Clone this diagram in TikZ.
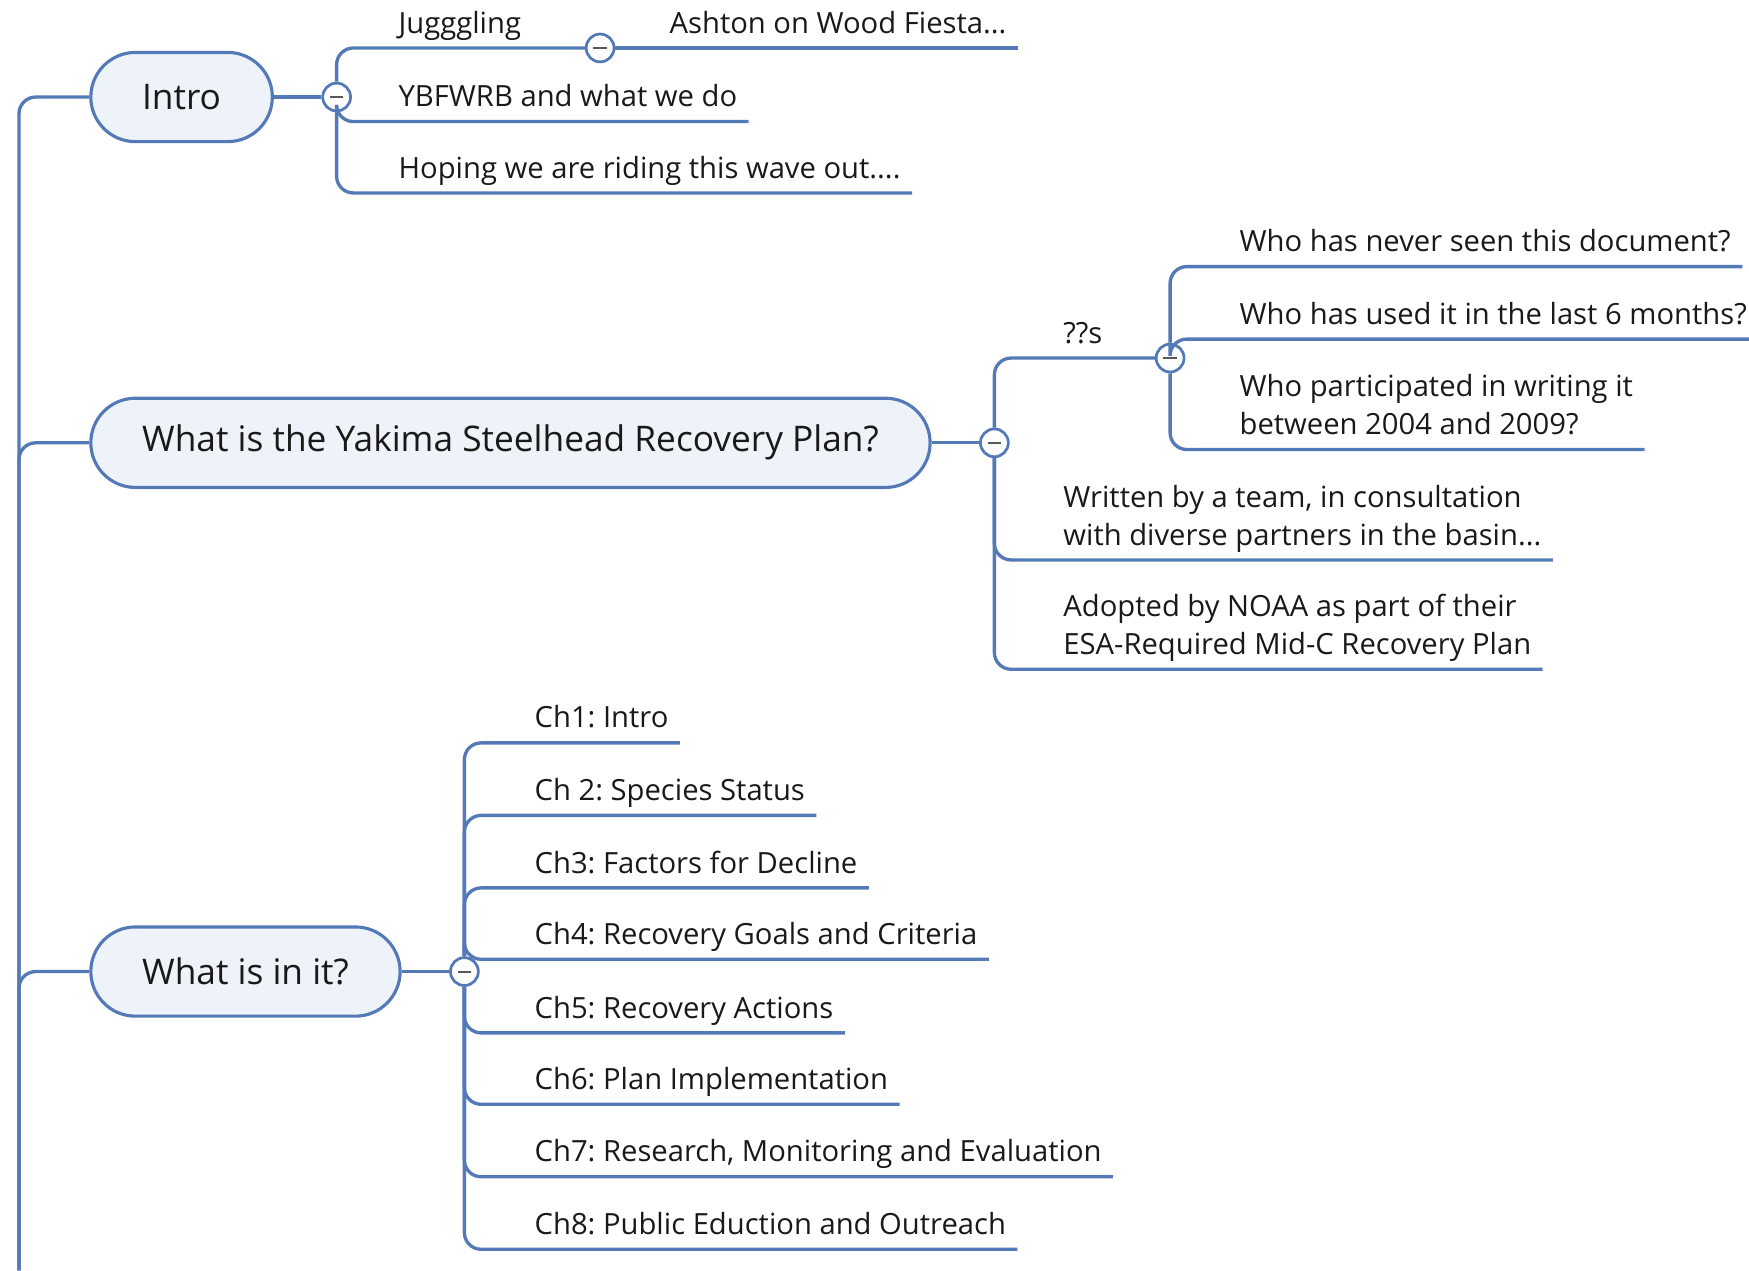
\documentclass[tikz,border=0pt]{standalone}
\usepackage{fontspec}
\setmainfont{Open Sans}
\usetikzlibrary{positioning}
\definecolor{mapblue}{RGB}{84,121,183}
\definecolor{mapfill}{RGB}{238,243,250}
\definecolor{maptext}{RGB}{25,25,25}
\frenchspacing
\begin{document}
\begin{tikzpicture}[x=0.02cm, y=-0.02cm,
    branch/.style={draw=mapblue, line width=1.7pt, rounded corners=0.3cm},
    topic/.style={draw=mapblue, fill=mapfill, line width=1.6pt, rounded corners=0.8cm,
        minimum height=1.6cm, inner xsep=0.92cm, anchor=west, text=maptext,
        font=\fontsize{18}{22}\selectfont},
    leaf/.style={anchor=south west, inner xsep=0.2cm, inner ysep=0.26cm, text depth=0pt,
        align=left, text=maptext, font=\fontsize{14.9}{19.3}\selectfont},
    fold/.style={circle, draw=mapblue, fill=white, line width=1.4pt, minimum size=0.5cm,
        inner sep=0pt, path picture={\draw[black!65, line width=1pt]
        ([xshift=-0.12cm]path picture bounding box.center) --
        ([xshift=0.12cm]path picture bounding box.center);}}]

    % Page frame
    \useasboundingbox (0,0) rectangle (1568,1139);

    % Root of the map sits below the page
    \coordinate (root) at (17,1139);

    % Main topics
    \node[topic] (intro) at (80,87) {Intro};
    \node[topic] (plan) at (80,397) {What is the Yakima Steelhead Recovery Plan?};
    \node[topic] (inside) at (80,871) {What is in it?};

    % Collapse buttons
    \node[fold, right=0.85cm of intro] (c1) {};
    \node[fold, right=0.85cm of plan] (c2) {};
    \node[fold, right=0.85cm of inside] (c3) {};
    \node[fold] (cj) at (538,43) {};
    \node[fold] (cq) at (1049,321) {};

    % Trunk to the main topics
    \draw[branch] (root) |- (intro.west);
    \draw[branch] (root) |- (plan.west);
    \draw[branch] (root) |- (inside.west);
    \draw[branch] (intro) -- (c1);
    \draw[branch] (plan) -- (c2);
    \draw[branch] (inside) -- (c3);

    % Intro subtopics
    \node[leaf] (jug) at (347,43) {Jugggling};
    \node[leaf] (ash) at (590,43) {Ashton on Wood Fiesta...};
    \node[leaf] (ybf) at (347,109) {YBFWRB and what we do};
    \node[leaf] (hop) at (347,173) {Hoping we are riding this wave out....};
    \draw[branch] (c1) |- (jug.south west) -- (cj);
    \draw[branch] (cj) -- (ash.south west) -- (ash.south east);
    \draw[branch] (c1) |- (ybf.south west) -- (ybf.south east);
    \draw[branch] (c1) |- (hop.south west) -- (hop.south east);

    % Recovery plan subtopics
    \node[leaf] (qs) at (943,321) {??s};
    \node[leaf] (who1) at (1101,239) {Who has never seen this document?};
    \node[leaf] (who2) at (1101,304) {Who has used it in the last 6 months?};
    \node[leaf] (who3) at (1101,403) {Who participated in writing it\\between 2004 and 2009?};
    \node[leaf] (team) at (943,502) {Written by a team, in consultation\\with diverse partners in the basin...};
    \node[leaf] (noaa) at (943,600) {Adopted by NOAA as part of their\\ESA-Required Mid-C Recovery Plan};
    \draw[branch] (c2) |- (qs.south west) -- (cq);
    \draw[branch] (cq) |- (who1.south west) -- (who1.south east);
    \draw[branch] (cq) |- (who2.south west) -- (who2.south east);
    \draw[branch] (cq) |- (who3.south west) -- (who3.south east);
    \draw[branch] (c2) |- (team.south west) -- (team.south east);
    \draw[branch] (c2) |- (noaa.south west) -- (noaa.south east);

    % Chapters
    \node[leaf] (ch1) at (469,666) {Ch1: Intro};
    \node[leaf] (ch2) at (469,731) {Ch 2: Species Status};
    \node[leaf] (ch3) at (469,796) {Ch3: Factors for Decline};
    \node[leaf] (ch4) at (469,860) {Ch4: Recovery Goals and Criteria};
    \node[leaf] (ch5) at (469,926) {Ch5: Recovery Actions};
    \node[leaf] (ch6) at (469,990) {Ch6: Plan Implementation};
    \node[leaf] (ch7) at (469,1055) {Ch7: Research, Monitoring and Evaluation};
    \node[leaf] (ch8) at (469,1120) {Ch8: Public Eduction and Outreach};
    \foreach \ch in {ch1,ch2,ch3,ch4,ch5,ch6,ch7,ch8}
        \draw[branch] (c3) |- (\ch.south west) -- (\ch.south east);

\end{tikzpicture}
\end{document}
